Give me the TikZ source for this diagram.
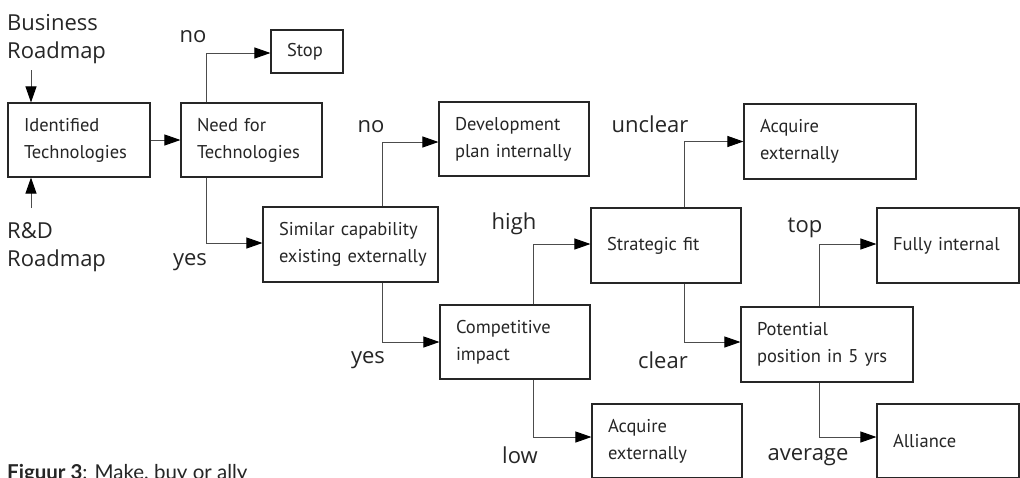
\documentclass[tikz,border=0pt]{standalone}
\usepackage{fontspec}
\setmainfont{PT Sans}
\newfontfamily\lblfont{Open Sans}
\newfontfamily\capfont{Lato}
\usetikzlibrary{arrows.meta}
\begin{document}
\begin{tikzpicture}[x=1pt,y=-1pt,
  box/.style={draw=black!85, line width=1.1pt, rectangle, inner xsep=16pt, inner ysep=0pt,
    align=left, font=\fontsize{18.5}{27}\selectfont, text=black!85},
  lbl/.style={font=\lblfont\fontsize{22}{28}\selectfont, text=black!85, inner sep=0pt},
  arr/.style={draw=black!70, line width=0.9pt, -{Triangle[length=16pt,width=11pt,color=black]}},
]
\fill[white] (0,0) rectangle (1020,477);
\clip (0,0) rectangle (1020,477);

% boxes
\node[box, minimum width=142pt, text width=110pt, minimum height=74pt] (ident) at (79,140) {Identified\\Technologies};
\node[box, minimum width=141pt, text width=109pt, minimum height=74pt] (need) at (251.5,140) {Need for\\Technologies};
\node[box, minimum width=72pt, text width=40pt, minimum height=43pt] (stop) at (307,51.5) {Stop};
\node[box, minimum width=150pt, text width=118pt, minimum height=74pt] (dev) at (514,139) {Development\\plan internally};
\node[box, minimum width=175pt, text width=143pt, minimum height=75pt] (similar) at (350.5,244.5) {\mbox{Similar capability}\\\mbox{existing externally}};
\node[box, minimum width=150pt, text width=118pt, minimum height=74pt] (comp) at (515,342) {Competitive\\impact};
\node[box, minimum width=150pt, text width=118pt, minimum height=75pt] (strat) at (666,245.5) {Strategic fit};
\node[box, minimum width=172pt, text width=140pt, minimum height=75pt] (acqa) at (830,141.5) {Acquire\\externally};
\node[box, minimum width=142pt, text width=110pt, minimum height=75pt] (fully) at (948,245.5) {Fully internal};
\node[box, minimum width=172pt, text width=140pt, minimum height=75pt] (pot) at (827,344.5) {Potential\\position in 5 yrs};
\node[box, minimum width=150pt, text width=118pt, minimum height=74pt] (acqb) at (667,441) {Acquire\\externally};
\node[box, minimum width=142pt, text width=110pt, minimum height=74pt] (alli) at (948,441) {Alliance};

% outside texts
\node[lbl, align=left, anchor=north west] (biz) at (7,14) {Business\\Roadmap};
\node[lbl, align=left, anchor=north west] (rnd) at (7,222) {R\&D\\Roadmap};
\node[lbl] (no1) at (193,37) {no};
\node[lbl] (yes1) at (190,262) {yes};
\node[lbl] (no2) at (371,127) {no};
\node[lbl] (yes2) at (368,360) {yes};
\node[lbl] (high) at (514,224) {high};
\node[lbl] (low) at (520,455) {low};
\node[lbl] (unclear) at (650,124) {unclear};
\node[lbl] (clear) at (663,360) {clear};
\node[lbl] (top) at (805,228) {top};
\node[lbl] (average) at (808,457) {average};

\node[anchor=north west, inner sep=0pt, text=black!85] (caption) at (7,464)
  {\capfont\fontsize{20.5}{24}\selectfont\textbf{Figuur 3}: Make, buy or ally};

% connectors
\coordinate (bizend) at (31,70);
\coordinate (rndend) at (31,208);
\draw[arr] (bizend) -- (ident.north -| bizend);
\draw[arr] (rndend) -- (ident.south -| rndend);
\draw[arr] (ident) -- (need);
\draw[arr] ([xshift=26pt]need.north west) |- ([yshift=-1.5pt]stop.west);
\draw[arr] ([xshift=26pt]need.south west) |- ([yshift=1.5pt]similar.west);
\draw[arr] ([xshift=120pt]similar.north west) |- ([yshift=-3pt]dev.west);
\draw[arr] ([xshift=120pt]similar.south west) |- (comp.west);
\draw[arr] ([xshift=94pt]comp.north west) |- ([yshift=1.5pt]strat.west);
\draw[arr] ([xshift=94pt]comp.south west) |- ([yshift=4pt]acqb.west);
\draw[arr] ([xshift=94pt]strat.north west) |- (acqa.west);
\draw[arr] ([xshift=94pt]strat.south west) |- ([yshift=2.5pt]pot.west);
\draw[arr] ([xshift=79pt]pot.north west) |- ([yshift=1.5pt]fully.west);
\draw[arr] ([xshift=79pt]pot.south west) |- ([yshift=4pt]alli.west);
\end{tikzpicture}
\end{document}
